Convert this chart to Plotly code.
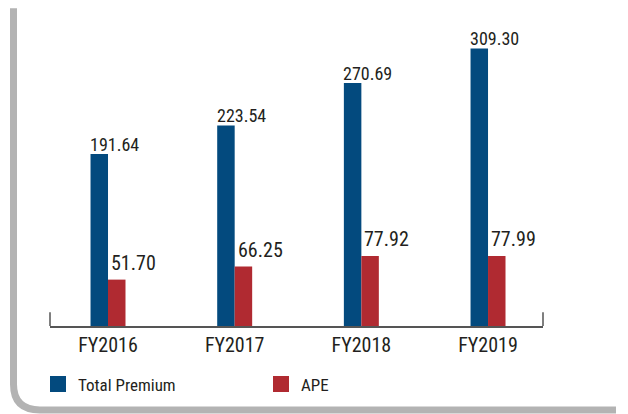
import plotly.graph_objects as go

categories = ["FY2016", "FY2017", "FY2018", "FY2019"]
total_premium = [191.64, 223.54, 270.69, 309.30]
ape = [51.70, 66.25, 77.92, 77.99]
series_names = ["Total Premium", "APE"]

NAVY = "#034a7e"
RED = "#b02a31"
TXT = "#231f20"
FONT = "Liberation Sans Narrow, Arial Narrow, Roboto Condensed, DejaVu Sans Condensed, sans-serif"

W, H = 628, 414
ML, MR, MT, MB = 50, 85, 20, 84
PW = W - ML - MR
PH = H - MT - MB


def xp(px):
    return (px - ML) / PW


def yp(py):
    return (H - MB - py) / PH


fig = go.Figure()
fig.add_trace(go.Bar(x=categories, y=total_premium, name=series_names[0],
                     marker=dict(color=NAVY, line=dict(width=0)), showlegend=False))
fig.add_trace(go.Bar(x=categories, y=ape, name=series_names[1],
                     marker=dict(color=RED, line=dict(width=0)), showlegend=False))

# legend entries with larger square swatches
fig.add_trace(go.Scatter(x=[None], y=[None], mode="markers", name=series_names[0],
                         marker=dict(symbol="square", size=16, color=NAVY)))
fig.add_trace(go.Scatter(x=[None], y=[None], mode="markers", name=series_names[1],
                         marker=dict(symbol="square", size=16, color=RED)))

annotations = []
for c, v in zip(categories, total_premium):
    annotations.append(dict(x=c, y=v, xref="x", yref="y", text=f"{v:.2f}",
                            showarrow=False, xanchor="left", yanchor="bottom",
                            xshift=-20, yshift=-3,
                            font=dict(family=FONT, size=18, color=TXT)))
for c, v in zip(categories, ape):
    annotations.append(dict(x=c, y=v, xref="x", yref="y", text=f"{v:.2f}",
                            showarrow=False, xanchor="left", yanchor="bottom",
                            xshift=1, yshift=3,
                            font=dict(family=FONT, size=20, color=TXT)))

shapes = [
    # rounded grey frame
    dict(type="path", xref="paper", yref="paper",
         path=(f"M {xp(13.5)},{yp(8)} L {xp(13.5)},{yp(389)} "
               f"Q {xp(13.5)},{yp(415)} {xp(40)},{yp(415)} L {xp(616)},{yp(415)}"),
         line=dict(color="#b3b3b3", width=7)),
    # end ticks of the category axis
    dict(type="line", xref="paper", yref="paper", x0=0, x1=0, y0=0, y1=14 / PH,
         line=dict(color="#555555", width=1.5)),
    dict(type="line", xref="paper", yref="paper", x0=1, x1=1, y0=0, y1=14 / PH,
         line=dict(color="#555555", width=1.5)),
]

fig.update_layout(
    width=W, height=H,
    margin=dict(l=ML, r=MR, t=MT, b=MB),
    paper_bgcolor="white", plot_bgcolor="white",
    barmode="group", bargap=0.724, bargroupgap=0,
    font=dict(family=FONT, color=TXT),
    annotations=annotations,
    shapes=shapes,
    legend=dict(orientation="h", x=xp(38), y=yp(371), xanchor="left", yanchor="top",
                font=dict(family=FONT, size=17, color=TXT),
                entrywidth=178, entrywidthmode="pixels",
                bgcolor="rgba(0,0,0,0)", borderwidth=0),
    xaxis=dict(type="category", range=[-0.458, 3.434], showline=True,
               linecolor="#555555", linewidth=1.5, ticks="", showgrid=False,
               tickfont=dict(family=FONT, size=20, color=TXT), fixedrange=True),
    yaxis=dict(range=[0, 341], visible=False, showgrid=False, zeroline=False,
               fixedrange=True),
)

fig.write_html("out.html", config={"displayModeBar": False},
               post_script="document.body.style.margin='0';document.body.style.overflow='hidden';")
